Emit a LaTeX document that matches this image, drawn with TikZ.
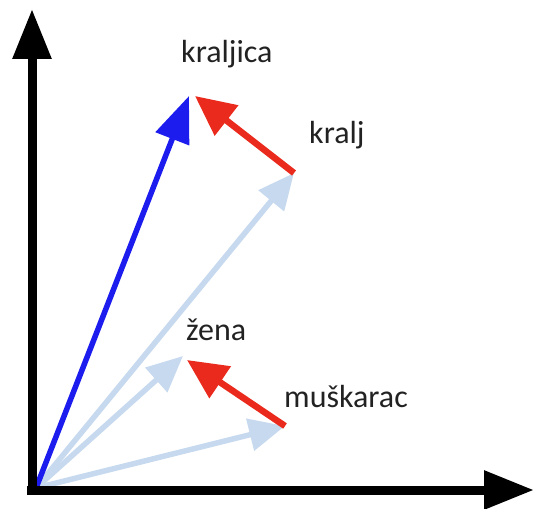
\documentclass[tikz,border=0pt]{standalone}
\usepackage{fontspec}
\setmainfont{Carlito}
\usetikzlibrary{arrows.meta}
\definecolor{vecblue}{HTML}{1C1CEE}
\definecolor{vecred}{HTML}{EA2A1C}
\definecolor{vecpale}{HTML}{C6D9EE}
\definecolor{wordgray}{HTML}{222222}
\tikzset{
  axis/.style={line width=9pt,-{Triangle[length=50pt,width=37pt]}},
  pale/.style={vecpale,line width=5.5pt,-{Triangle[length=36pt,width=32pt]}},
  diff/.style={vecred,line width=6.5pt,-{Triangle[length=40pt,width=37pt]}},
  word/.style={text=wordgray,font=\fontsize{32}{38}\selectfont,inner sep=0pt,anchor=base west}
}
\begin{document}
\begin{tikzpicture}[x=1pt,y=-1pt]
  \useasboundingbox (0,0) rectangle (534,508);
  % points
  \coordinate (O) at (36,488);
  \coordinate (kraljica) at (189,96);
  \coordinate (kralj) at (294,173);
  \coordinate (zena) at (183,356);
  \coordinate (muskarac) at (285,426);
  \coordinate (ytop) at (32,9);
  \coordinate (xend) at (534,490);

  % words
  \node[word] (lkraljica) at (181,63) {kraljica};
  \node[word] (lkralj) at (309,143) {kralj};
  \node[word] (lzena) at (186,340) {žena};
  \node[word] (lmuskarac) at (284,407) {muškarac};

  % pale vectors
  \foreach \p in {kralj,zena,muskarac}{\draw[pale] (O) -- (\p);}
  % queen vector
  \draw[vecblue,line width=5.5pt,-{Triangle[length=46pt,width=35pt]}] (O) -- (kraljica);
  % differences
  \draw[diff] (kralj) -- ([xshift=6pt]kraljica);
  \draw[diff] (muskarac) -- ([xshift=4pt,yshift=-4pt]zena);

  % axes
  \draw[axis] (32,494) -- (ytop);
  \draw[axis] (27,490) -- (xend);
\end{tikzpicture}
\end{document}
